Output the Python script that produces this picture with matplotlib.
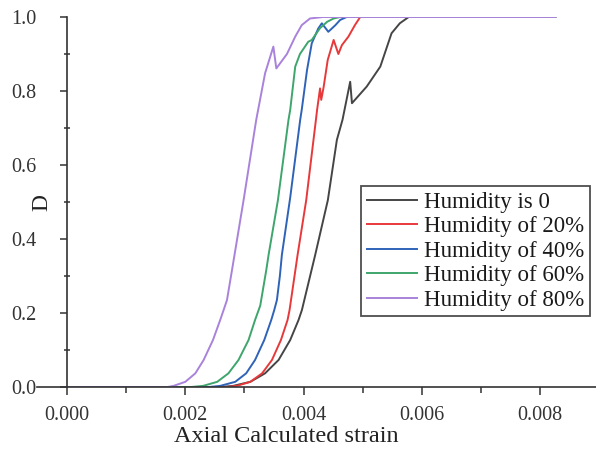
import matplotlib
matplotlib.use("Agg")
import matplotlib.pyplot as plt
from matplotlib.ticker import MultipleLocator, FormatStrFormatter

plt.rcParams['font.family'] = ['Liberation Serif', 'DejaVu Serif']

labels = ["Humidity is 0", "Humidity of 20%", "Humidity of 40%",
          "Humidity of 60%", "Humidity of 80%"]
colors = ["#454545", "#e8393a", "#2f63b8", "#3ea56d", "#a982dc"]

strain_h0 = [0, 0.0026, 0.00281, 0.0031, 0.00335, 0.003578, 0.003775, 0.003916, 0.003973,
             0.004198, 0.004412, 0.004565, 0.00466, 0.00479, 0.00482, 0.00507,
             0.0053, 0.00549, 0.00563, 0.00578, 0.00826]
d_h0 = [0, 0, 0.003, 0.014, 0.037, 0.073, 0.127, 0.181, 0.208,
        0.357, 0.505, 0.668, 0.722, 0.825, 0.767, 0.812,
        0.866, 0.956, 0.983, 1.0, 1.0]

strain_h20 = [0, 0.0027, 0.00287, 0.0031, 0.0033, 0.003466, 0.003618, 0.00373, 0.003764,
              0.0039, 0.004046, 0.00421, 0.00423, 0.00428, 0.0043, 0.00434,
              0.00441, 0.00451, 0.00459, 0.00465, 0.00476, 0.00487, 0.00496, 0.00826]
d_h20 = [0, 0, 0.003, 0.014, 0.037, 0.073, 0.127, 0.181, 0.208,
         0.357, 0.505, 0.722, 0.749, 0.807, 0.776, 0.81,
         0.884, 0.938, 0.90, 0.924, 0.947, 0.978, 1.0, 1.0]

strain_h40 = [0, 0.0024, 0.00259, 0.002845, 0.00303, 0.00318, 0.003336, 0.003454, 0.003505,
              0.00355, 0.0036, 0.003634, 0.003775, 0.003944, 0.00397, 0.00406, 0.00414,
              0.00425, 0.00431, 0.00442, 0.00454, 0.00462, 0.00473, 0.00826]
d_h40 = [0, 0, 0.003, 0.014, 0.037, 0.073, 0.127, 0.181, 0.208,
         0.235, 0.30, 0.357, 0.512, 0.722, 0.749, 0.857, 0.929,
         0.969, 0.983, 0.96, 0.978, 0.992, 1.0, 1.0]

strain_h60 = [0, 0.0021, 0.0023, 0.00254, 0.00273, 0.0029, 0.00307, 0.00318, 0.003268,
              0.00337, 0.003409, 0.003567, 0.003746, 0.003775, 0.00386, 0.00394, 0.00408,
              0.00414, 0.00428, 0.0044, 0.00451, 0.00462, 0.00826]
d_h60 = [0, 0, 0.003, 0.014, 0.037, 0.073, 0.127, 0.181, 0.22,
         0.316, 0.357, 0.505, 0.722, 0.749, 0.866, 0.90, 0.933,
         0.938, 0.97, 0.987, 0.996, 1.0, 1.0]

strain_h80 = [0, 0.0017, 0.0018, 0.0020, 0.00217, 0.00231, 0.002468, 0.00259, 0.002648,
              0.002705, 0.00279, 0.002986, 0.0032, 0.00335, 0.00349, 0.00354,
              0.00372, 0.00386, 0.00397, 0.00411, 0.00433, 0.00826]
d_h80 = [0, 0, 0.003, 0.014, 0.037, 0.073, 0.127, 0.181, 0.208,
         0.235, 0.316, 0.505, 0.722, 0.848, 0.92, 0.861,
         0.90, 0.947, 0.978, 0.996, 1.0, 1.0]

series = [(strain_h0, d_h0), (strain_h20, d_h20), (strain_h40, d_h40),
          (strain_h60, d_h60), (strain_h80, d_h80)]

x_ticks = [0.000, 0.002, 0.004, 0.006, 0.008]
y_ticks = [0.0, 0.2, 0.4, 0.6, 0.8, 1.0]

fig = plt.figure(figsize=(5.96, 4.57), dpi=100)
ax = fig.add_axes([37 / 596, 70 / 457, 1 - 37 / 596, 370 / 457])

for (xs, ys), c, lab in zip(series, colors, labels):
    ax.plot(xs, ys, color=c, lw=1.4, label=lab)

ax.set_xlim(-0.00051, 0.00895)
ax.set_ylim(0, 1.0)
ax.spines['top'].set_visible(False)
ax.spines['right'].set_visible(False)
ax.spines['left'].set_position(('data', 0))
for s in ('left', 'bottom'):
    ax.spines[s].set_color('#333333')
    ax.spines[s].set_linewidth(1.2)

ax.set_xticks(x_ticks)
ax.set_yticks(y_ticks)
ax.xaxis.set_major_formatter(FormatStrFormatter('%.3f'))
ax.yaxis.set_major_formatter(FormatStrFormatter('%.1f'))
ax.xaxis.set_minor_locator(MultipleLocator(0.001))
ax.yaxis.set_minor_locator(MultipleLocator(0.1))
ax.tick_params(axis='x', which='major', direction='out', length=6, width=1.1,
               labelsize=14.5, pad=8, colors='#333333', labelcolor='#333333')
ax.tick_params(axis='x', which='minor', direction='out', length=4, width=1.1, colors='#333333')
ax.tick_params(axis='y', which='major', direction='out', length=5, width=1.1,
               labelsize=14.5, pad=17, colors='#333333', labelcolor='#333333')
ax.tick_params(axis='y', which='minor', direction='inout', length=5, width=1.1, colors='#333333')

fig.text(286 / 596, 1 - 437 / 457, "Axial Calculated strain", fontsize=17.5,
         ha='center', va='center', color='#222222')
fig.text(42 / 596, 1 - 203 / 457, "D", fontsize=17, rotation=90,
         ha='center', va='center', color='#222222')

leg = ax.legend(loc='upper left', bbox_to_anchor=(361 / 596, 1 - 186 / 457),
                bbox_transform=fig.transFigure, borderaxespad=0, fontsize=16.5,
                frameon=True, fancybox=False, edgecolor='#222222',
                handlelength=2.2, handletextpad=0.3, labelspacing=0.15,
                borderpad=0.25)
leg.get_frame().set_linewidth(1.3)
for t in leg.get_texts():
    t.set_color('#1a1a1a')

fig.savefig("out.png", dpi=100)
